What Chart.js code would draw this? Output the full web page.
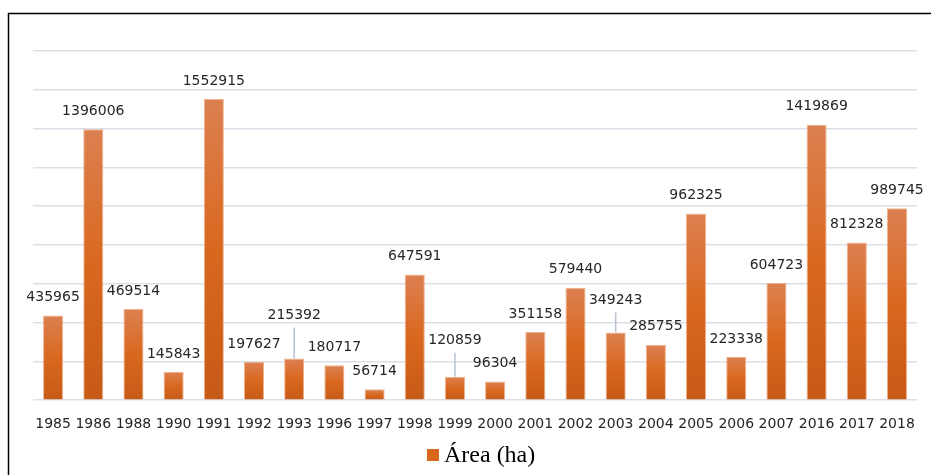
<!DOCTYPE html>
<html>
<head>
<meta charset="utf-8">
<script src="https://cdn.jsdelivr.net/npm/chart.js@4/dist/chart.umd.min.js"></script>
<style>
  html, body { margin: 0; padding: 0; background: #fff; }
  #wrap { position: relative; width: 931px; height: 475px; }
</style>
</head>
<body>
<div id="wrap"><canvas id="areaChart" width="931" height="475"></canvas></div>
<script>
// ─── data
const years = ['1985', '1986', '1988', '1990', '1991', '1992', '1993', '1996', '1997', '1998', '1999',
  '2000', '2001', '2002', '2003', '2004', '2005', '2006', '2007', '2016', '2017', '2018'];
const areaHa = [435965, 1396006, 469514, 145843, 1552915, 197627, 215392, 180717, 56714, 647591, 120859,
  96304, 351158, 579440, 349243, 285755, 962325, 223338, 604723, 1419869, 812328, 989745];
const seriesName = 'Área (ha)';
const yMax = 1800000;
const yStep = 200000;

// labels that Excel pushed up and tied to their bar with a leader line (px of extra lift)
const leaderLift = { '1993': 25, '1999': 18, '2003': 14 };

// ─── bar fill: light top, strong middle, darker base (per bar)
function barFill(ctx) {
  const chart = ctx.chart;
  if (!chart.chartArea || ctx.type !== 'data') return '#d9681f';
  const y = chart.scales.y;
  const top = y.getPixelForValue(ctx.parsed.y);
  const base = y.getPixelForValue(0);
  const g = chart.ctx.createLinearGradient(0, top, 0, base);
  g.addColorStop(0, '#dc8051');
  g.addColorStop(0.5, '#d9681f');
  g.addColorStop(1, '#c65a17');
  return g;
}

// ─── value labels + leader lines
const valueLabels = {
  id: 'valueLabels',
  afterDatasetsDraw(chart) {
    const c = chart.ctx;
    const meta = chart.getDatasetMeta(0);
    c.save();
    c.font = '14px "DejaVu Sans"';
    c.fillStyle = '#262626';
    c.textAlign = 'center';
    c.textBaseline = 'middle';
    meta.data.forEach((bar, i) => {
      const lift = leaderLift[years[i]] || 0;
      const ly = bar.y - 18 - lift;
      c.fillText(String(areaHa[i]), bar.x, ly);
      if (lift) {
        c.strokeStyle = '#b8c2d0';
        c.lineWidth = 1.5;
        c.beginPath();
        c.moveTo(bar.x, ly + 12);
        c.lineTo(bar.x, bar.y);
        c.stroke();
      }
    });
    c.restore();
  }
};

// ─── legend under the axis, Excel style (square + serif text)
const bottomLegend = {
  id: 'bottomLegend',
  afterDraw(chart) {
    const c = chart.ctx;
    const cy = 455;
    c.save();
    c.fillStyle = '#d9681f';
    c.fillRect(427, cy - 6, 12, 12);
    c.fillStyle = '#000';
    c.font = '24px "Liberation Serif"';
    c.textAlign = 'left';
    c.textBaseline = 'middle';
    c.fillText(seriesName, 444, cy + 1);
    c.restore();
  }
};

// ─── chart frame (top + left edge only are visible)
const frame = {
  id: 'frame',
  afterDraw(chart) {
    const c = chart.ctx;
    c.save();
    c.strokeStyle = '#000';
    c.lineWidth = 1.5;
    c.beginPath();
    c.moveTo(8.5, chart.height);
    c.lineTo(8.5, 13.5);
    c.lineTo(chart.width, 13.5);
    c.stroke();
    c.restore();
  }
};

new Chart(document.getElementById('areaChart'), {
  type: 'bar',
  data: {
    labels: years,
    datasets: [{
      label: seriesName,
      data: areaHa,
      backgroundColor: barFill,
      borderColor: 'rgba(238,168,128,0.9)',
      borderWidth: 1,
      categoryPercentage: 0.5,
      barPercentage: 1
    }]
  },
  options: {
    responsive: false,
    animation: false,
    layout: { padding: { left: 33, right: 9, top: 51, bottom: 26 } },
    plugins: {
      tooltip: { enabled: false },
      legend: { display: false }
    },
    scales: {
      x: {
        grid: { display: false, drawTicks: false },
        border: { display: false },
        ticks: {
          color: '#262626',
          padding: 16,
          maxRotation: 0,
          autoSkip: false,
          font: { family: '"DejaVu Sans"', size: 14 }
        }
      },
      y: {
        min: 0,
        max: yMax,
        ticks: { display: false, stepSize: yStep },
        border: { display: false },
        grid: { color: '#dadfe8', lineWidth: 1.5, drawTicks: false }
      }
    }
  },
  plugins: [valueLabels, bottomLegend, frame]
});
</script>
</body>
</html>
